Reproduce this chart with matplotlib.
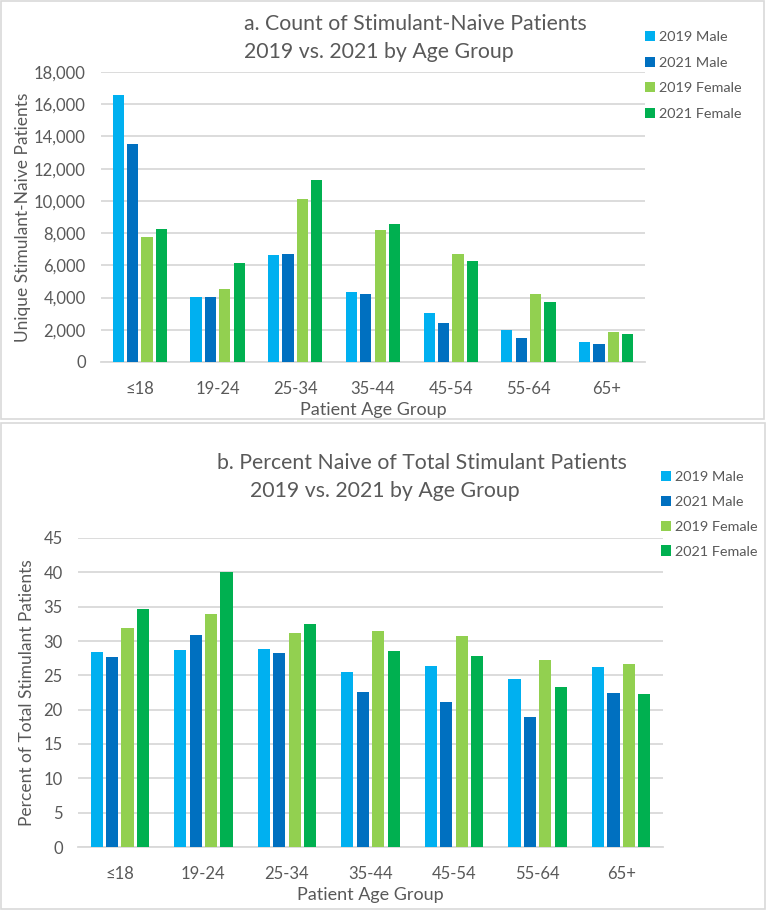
import matplotlib
matplotlib.use("Agg")
import matplotlib.pyplot as plt
import numpy as np
from matplotlib.patches import Rectangle

plt.rcParams['font.family'] = ['Lato', 'DejaVu Sans']

age_groups = ['≤18', '19-24', '25-34', '35-44', '45-54', '55-64', '65+']
series = ['2019 Male', '2021 Male', '2019 Female', '2021 Female']
colors = ['#00B0F0', '#0070C0', '#92D050', '#00B050']

# a. counts of stimulant-naive patients
count_2019_male = [16550, 4050, 6660, 4360, 3050, 1990, 1270]
count_2021_male = [13510, 4050, 6730, 4210, 2450, 1520, 1100]
count_2019_female = [7760, 4530, 10090, 8180, 6730, 4210, 1850]
count_2021_female = [8240, 6120, 11270, 8550, 6250, 3700, 1740]

# b. percent naive of total stimulant patients
pct_2019_male = [28.4, 28.7, 28.8, 25.5, 26.3, 24.4, 26.2]
pct_2021_male = [27.6, 30.9, 28.3, 22.6, 21.1, 19.0, 22.4]
pct_2019_female = [31.9, 33.9, 31.1, 31.5, 30.7, 27.2, 26.6]
pct_2021_female = [34.6, 40.1, 32.5, 28.5, 27.8, 23.3, 22.3]

W, H = 767, 919
txt = '#595959'
grid = '#D9D9D9'

fig = plt.figure(figsize=(W / 100, H / 100), dpi=100)


def px_axes(left, top, right, bottom):
    return fig.add_axes([left / W, 1 - bottom / H, (right - left) / W, (bottom - top) / H])


def draw(ax, data, ymax, ystep, fmt, ylabel, ylpad):
    x = np.arange(len(age_groups))
    pitch = 0.185
    bw = 0.145
    for i, (vals, c, lab) in enumerate(zip(data, colors, series)):
        ax.bar(x + (i - 1.5) * pitch, vals, width=bw, color=c, label=lab, zorder=3)
    ax.set_xlim(-0.5, len(age_groups) - 0.5)
    ax.set_ylim(0, ymax)
    ax.set_yticks(np.arange(0, ymax + 1, ystep))
    ax.yaxis.set_major_formatter(matplotlib.ticker.FuncFormatter(fmt))
    ax.set_xticks(x)
    ax.set_xticklabels(age_groups)
    ax.grid(axis='y', color=grid, linewidth=1.3, zorder=0)
    for s in ['top', 'right', 'left']:
        ax.spines[s].set_visible(False)
    ax.spines['bottom'].set_color(grid)
    ax.spines['bottom'].set_linewidth(1.3)
    ax.tick_params(length=0, colors=txt, labelsize=12)
    ax.tick_params(axis='x', pad=14)
    ax.tick_params(axis='y', pad=11)
    ax.set_xlabel('Patient Age Group', color=txt, fontsize=13, labelpad=3)
    ax.set_ylabel(ylabel, color=txt, fontsize=12.5, labelpad=ylpad)


# panel borders
fig.patches.append(Rectangle((1 / W, 1 - 419 / H), 763 / W, 418 / H, transform=fig.transFigure,
                             fill=False, edgecolor=grid, linewidth=1.2))
fig.patches.append(Rectangle((1 / W, 1 - 909 / H), 764 / W, 486 / H, transform=fig.transFigure,
                             fill=False, edgecolor=grid, linewidth=1.2))

ax1 = px_axes(101, 72, 645, 362)
draw(ax1, [count_2019_male, count_2021_male, count_2019_female, count_2021_female],
     18000, 2000, lambda v, p: f'{int(v):,}', 'Unique Stimulant-Naive Patients', 2)
fig.text(244 / W, 1 - 24 / H, 'a. Count of Stimulant-Naive Patients', color=txt,
         fontsize=15.3, ha='left', va='center')
fig.text(244 / W, 1 - 52 / H, '2019 vs. 2021 by Age Group', color=txt,
         fontsize=15.3, ha='left', va='center')
ax1.legend(loc='upper left', bbox_to_anchor=(645 / W, 1 - 31 / H), bbox_transform=fig.transFigure,
           frameon=False, fontsize=10.4, labelcolor=txt, handlelength=0.7, handleheight=0.7,
           handletextpad=0.3, labelspacing=0.93, borderpad=0, borderaxespad=0)

ax2 = px_axes(78, 538, 663, 847)
draw(ax2, [pct_2019_male, pct_2021_male, pct_2019_female, pct_2021_female],
     45, 5, lambda v, p: f'{int(v)}', 'Percent of Total Stimulant Patients', 6)
fig.text(217 / W, 1 - 463 / H, 'b. Percent Naive of Total Stimulant Patients', color=txt,
         fontsize=15.3, ha='left', va='center')
fig.text(250 / W, 1 - 491 / H, '2019 vs. 2021 by Age Group', color=txt,
         fontsize=15.3, ha='left', va='center')
ax2.legend(loc='upper left', bbox_to_anchor=(661 / W, 1 - 471 / H), bbox_transform=fig.transFigure,
           frameon=False, fontsize=10.4, labelcolor=txt, handlelength=0.7, handleheight=0.7,
           handletextpad=0.3, labelspacing=0.88, borderpad=0, borderaxespad=0)

fig.savefig('out.png', dpi=100)
